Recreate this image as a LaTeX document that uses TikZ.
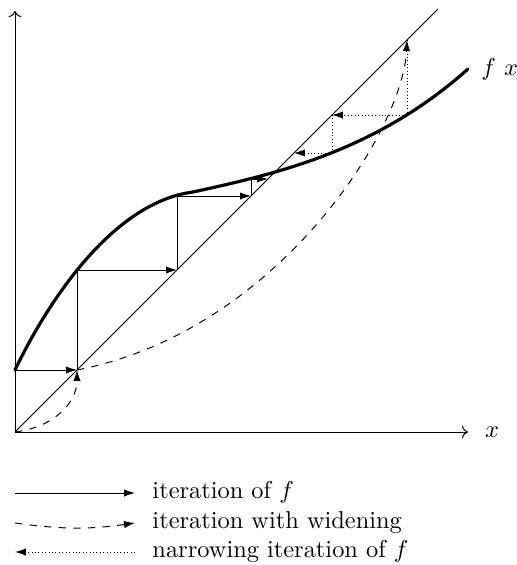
\documentclass[tikz,border=0pt]{standalone}
\usepackage{amsmath,amssymb}
\usepackage{tikz}
\usetikzlibrary{arrows.meta}

\begin{document}
\begin{tikzpicture}[x=0.41pt,y=0.41pt,
  iter/.style={-{Latex[length=4.5pt,width=3pt]}},
  widen/.style={dashed,-{Latex[length=4.5pt,width=3pt]}},
  narrow/.style={densely dotted,-{Latex[length=4.5pt,width=3pt]}},
  fcurve/.style={line width=1.3pt,line join=round,line cap=round}]
\useasboundingbox (-15,-133) rectangle (502,432);
% axes and diagonal
\coordinate (O) at (0,0);
\coordinate (xend) at (453,0);
\coordinate (yend) at (0,421);
\coordinate (dtop) at (423,423);
\draw[->] (O)--(xend) node[right,xshift=3.5pt] (xlab) {$x$};
\draw[->] (O)--(yend);
\draw (O)--(dtop);
% the function
\coordinate (f0) at (0,62);
\coordinate (fk) at (178,240);
\coordinate (fend) at (453,363);
\draw[fcurve] (f0) .. controls (35,135) and (100,230) .. (fk)
  .. controls (260,258) and (360,280) .. (fend);
\node[right,xshift=2pt] (flab) at (fend) {$f\ x$};
% iteration of f
\coordinate (a1) at (62,62);  \coordinate (b1) at (62,162);
\coordinate (a2) at (162,162); \coordinate (b2) at (162,236);
\coordinate (a3) at (236,236); \coordinate (b3) at (236,253);
\coordinate (a4) at (253,253);
\draw[iter] (f0)--(a1);
\draw[iter] (a1)--(b1)--(a2);
\draw[iter] (a2)--(b2)--(a3);
\draw[iter] (a3)--(b3)--(a4);
% widening
\coordinate (w) at (392,392);
\draw[widen] (O) .. controls (40,5) and (62,30) .. (a1);
\draw[widen] (a1) .. controls (260,100) and (388,300) .. (w);
% narrowing
\coordinate (n1) at (392,317); \coordinate (c1) at (317,317);
\coordinate (n2) at (317,279); \coordinate (c2) at (279,279);
\draw[narrow] (w)--(n1)--(c1);
\draw[narrow] (c1)--(n2)--(c2);
% legend
\coordinate (l1s) at (0,-61);  \coordinate (l1e) at (120,-61);
\coordinate (l2s) at (0,-91);  \coordinate (l2e) at (120,-91);
\coordinate (l3s) at (0,-120); \coordinate (l3e) at (120,-120);
\draw[iter] (l1s)--(l1e);
\draw[widen] (l2s) to[bend right=8] (l2e);
\draw[narrow] (l3e)--(l3s);
\node[anchor=base west,inner sep=0pt] (leg1) at (137,-66) {iteration of $f$};
\node[anchor=base west,inner sep=0pt] (leg2) at (137,-96) {iteration with widening};
\node[anchor=base west,inner sep=0pt] (leg3) at (137,-125) {narrowing iteration of $f$};
\end{tikzpicture}
\end{document}
